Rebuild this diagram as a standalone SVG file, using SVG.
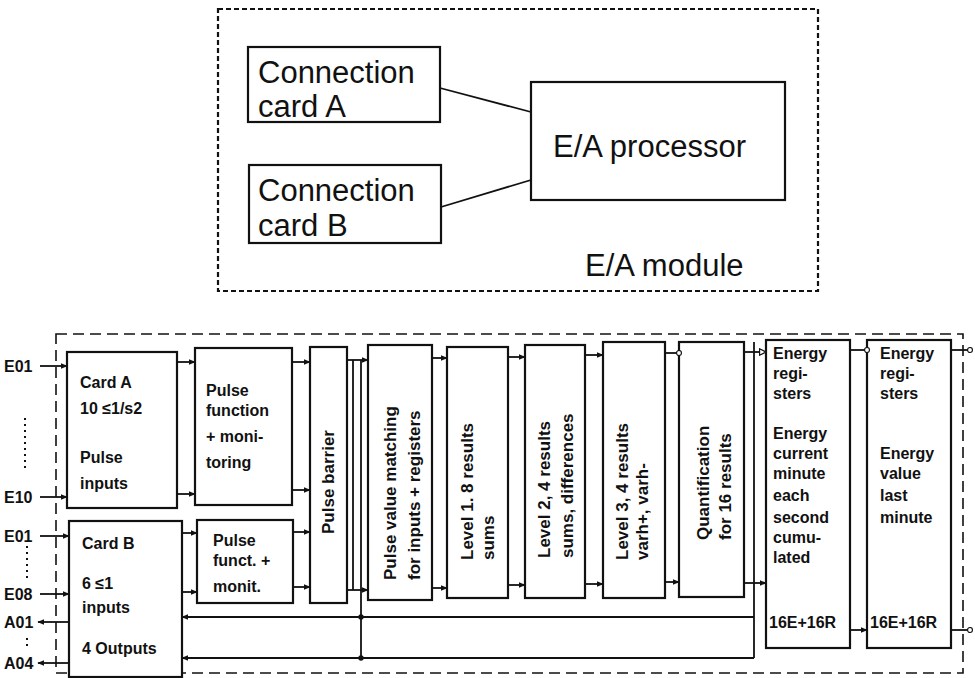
<svg xmlns="http://www.w3.org/2000/svg" width="975" height="678" viewBox="0 0 975 678">
<defs>
<style>
.bg{fill:#fff}
.box{fill:#fff;stroke:#111;stroke-width:2.2}
.dash1{fill:none;stroke:#111;stroke-width:2.2;stroke-dasharray:5 3}
.dash2{fill:none;stroke:#111;stroke-width:1.6;stroke-dasharray:11 6}
.big{font-family:"Liberation Sans",Arial,sans-serif;font-size:31px;fill:#111}
.sm{font-family:"Liberation Sans",Arial,sans-serif;font-size:16px;font-weight:bold;fill:#111}
.vt{font-family:"Liberation Sans",Arial,sans-serif;font-size:17px;font-weight:bold;fill:#111}
.lbl{font-family:"Liberation Sans",Arial,sans-serif;font-size:16px;font-weight:bold;fill:#111}
.ln{fill:none;stroke:#111;stroke-width:1.8}
.dot{fill:none;stroke:#111;stroke-width:2;stroke-dasharray:2 4}
</style>
<marker id="arr" viewBox="0 0 10 10" refX="9" refY="5" markerWidth="7" markerHeight="7" orient="auto" markerUnits="userSpaceOnUse">
<path d="M0,1 L10,5 L0,9 z" fill="#111"/>
</marker>
<marker id="oarr" viewBox="0 0 10 10" refX="9" refY="5" markerWidth="8" markerHeight="8" orient="auto" markerUnits="userSpaceOnUse">
<path d="M1,1 L9,5 L1,9 z" fill="#fff" stroke="#111" stroke-width="1.5"/>
</marker>
<marker id="circ" viewBox="0 0 10 10" refX="5" refY="5" markerWidth="7" markerHeight="7" markerUnits="userSpaceOnUse">
<circle cx="5" cy="5" r="3.5" fill="#fff" stroke="#111" stroke-width="1.6"/>
</marker>
<marker id="jd" viewBox="0 0 10 10" refX="5" refY="5" markerWidth="6" markerHeight="6" markerUnits="userSpaceOnUse">
<circle cx="5" cy="5" r="4.5" fill="#111"/>
</marker>
</defs>
<rect class="bg" x="0" y="0" width="975" height="678"/>

<!-- Top: E/A module -->
<g id="ea-module">
<rect class="dash1" x="218" y="9" width="600" height="282"/>
<text class="big" x="585" y="276" font-size="37">E/A module</text>
</g>
<g id="conn-card-a">
<rect class="box" x="248" y="47" width="192" height="75"/>
<text class="big" x="258" y="83">Connection</text>
<text class="big" x="258" y="117">card  A</text>
</g>
<g id="conn-card-b">
<rect class="box" x="249" y="165" width="192" height="78"/>
<text class="big" x="258" y="201">Connection</text>
<text class="big" x="258" y="236">card  B</text>
</g>
<g id="ea-processor">
<rect class="box" x="531" y="82" width="254" height="118"/>
<text class="big" x="553" y="157">E/A processor</text>
</g>
<g id="top-connectors">
<line class="ln" x1="440" y1="88" x2="531" y2="112"/>
<line class="ln" x1="441" y1="207" x2="531" y2="180"/>
</g>

<!-- Bottom: block diagram -->
<g id="frame">
<rect class="dash2" x="56" y="334" width="907" height="339"/>
</g>

<g id="labels">
<text class="lbl" x="4" y="372">E01</text>
<text class="lbl" x="4" y="503">E10</text>
<text class="lbl" x="4" y="542">E01</text>
<text class="lbl" x="4" y="600">E08</text>
<text class="lbl" x="4" y="628">A01</text>
<text class="lbl" x="4" y="669">A04</text>
</g>

<g id="card-a">
<rect class="box" x="67" y="352" width="110" height="156"/>
<text class="sm" x="80" y="388">Card A</text>
<text class="sm" x="80" y="414">10 ≤1/s2</text>
<text class="sm" x="80" y="463">Pulse</text>
<text class="sm" x="80" y="489">inputs</text>
</g>
<g id="card-b">
<rect class="box" x="69" y="521" width="113" height="156"/>
<text class="sm" x="82" y="549">Card B</text>
<text class="sm" x="82" y="589">6 ≤1</text>
<text class="sm" x="82" y="613">inputs</text>
<text class="sm" x="82" y="654">4 Outputs</text>
</g>
<g id="pulse-function">
<rect class="box" x="195" y="348" width="97" height="157"/>
<text class="sm" x="206" y="396">Pulse</text>
<text class="sm" x="206" y="416">function</text>
<text class="sm" x="206" y="442">+ moni-</text>
<text class="sm" x="206" y="468">toring</text>
</g>
<g id="pulse-funct">
<rect class="box" x="197" y="520" width="96" height="83"/>
<text class="sm" x="213" y="546">Pulse</text>
<text class="sm" x="213" y="566">funct. +</text>
<text class="sm" x="213" y="592">monit.</text>
</g>
<g id="pulse-barrier">
<rect class="box" x="310" y="347" width="37" height="256"/>
<text class="vt" transform="translate(334,482) rotate(-90)" text-anchor="middle">Pulse barrier</text>
</g>
<g id="pulse-value-matching">
<rect class="box" x="368" y="345" width="64" height="255"/>
<text class="vt" transform="translate(396,580) rotate(-90)">Pulse value matching<tspan x="0" dy="24">for inputs + registers</tspan></text>
</g>
<g id="level-1">
<rect class="box" x="447" y="347" width="61" height="251"/>
<text class="vt" transform="translate(473,560) rotate(-90)">Level 1. 8 results<tspan x="0" dy="21">sums</tspan></text>
</g>
<g id="level-2">
<rect class="box" x="525" y="345" width="60" height="253"/>
<text class="vt" transform="translate(550,558) rotate(-90)">Level 2, 4 results<tspan x="0" dy="23">sums, differences</tspan></text>
</g>
<g id="level-3">
<rect class="box" x="603" y="342" width="62" height="256"/>
<text class="vt" transform="translate(628,560) rotate(-90)">Level 3, 4 results<tspan x="0" dy="20">varh+, varh-</tspan></text>
</g>
<g id="quantification">
<rect class="box" x="679" y="342" width="65" height="255"/>
<text class="vt" transform="translate(709,540) rotate(-90)">Quantification<tspan x="0" dy="22">for 16 results</tspan></text>
</g>
<g id="energy-1">
<rect class="box" x="766" y="340" width="84" height="308"/>
<text class="sm" x="773" y="359">Energy</text>
<text class="sm" x="773" y="379">regi-</text>
<text class="sm" x="773" y="399">sters</text>
<text class="sm" x="773" y="439">Energy</text>
<text class="sm" x="773" y="459">current</text>
<text class="sm" x="773" y="479">minute</text>
<text class="sm" x="773" y="501">each</text>
<text class="sm" x="773" y="523">second</text>
<text class="sm" x="773" y="543">cumu-</text>
<text class="sm" x="773" y="563">lated</text>
<text class="sm" x="769" y="628">16E+16R</text>
</g>
<g id="energy-2">
<rect class="box" x="867" y="340" width="84" height="308"/>
<text class="sm" x="880" y="359">Energy</text>
<text class="sm" x="880" y="379">regi-</text>
<text class="sm" x="880" y="399">sters</text>
<text class="sm" x="880" y="459">Energy</text>
<text class="sm" x="880" y="479">value</text>
<text class="sm" x="880" y="501">last</text>
<text class="sm" x="880" y="523">minute</text>
<text class="sm" x="870" y="628">16E+16R</text>
</g>

<g id="connectors">
<!-- inputs / outputs -->
<line class="ln" x1="40" y1="366" x2="67" y2="366" marker-end="url(#arr)"/>
<line class="ln" x1="40" y1="497" x2="67" y2="497" marker-end="url(#arr)"/>
<line class="ln" x1="40" y1="536" x2="69" y2="536" marker-end="url(#arr)"/>
<line class="ln" x1="40" y1="594" x2="69" y2="594" marker-end="url(#arr)"/>
<line class="ln" x1="69" y1="622" x2="38" y2="622" marker-end="url(#arr)"/>
<line class="ln" x1="69" y1="663" x2="38" y2="663" marker-end="url(#arr)"/>
<line class="dot" x1="25" y1="418" x2="25" y2="472"/>
<line class="dot" x1="27" y1="546" x2="27" y2="578"/>
<line class="dot" x1="27" y1="638" x2="27" y2="650"/>
<!-- card -> pulse function -->
<line class="ln" x1="177" y1="362" x2="195" y2="362" marker-end="url(#arr)"/>
<line class="ln" x1="177" y1="494" x2="195" y2="494" marker-end="url(#arr)"/>
<line class="ln" x1="182" y1="533" x2="197" y2="533" marker-end="url(#arr)"/>
<line class="ln" x1="182" y1="592" x2="197" y2="592" marker-end="url(#arr)"/>
<!-- pulse function -> barrier -->
<line class="ln" x1="292" y1="362" x2="310" y2="362" marker-end="url(#arr)"/>
<line class="ln" x1="292" y1="490" x2="310" y2="490" marker-end="url(#arr)"/>
<line class="ln" x1="293" y1="532" x2="310" y2="532" marker-end="url(#arr)"/>
<line class="ln" x1="293" y1="587" x2="310" y2="587" marker-end="url(#arr)"/>
<!-- barrier -> PVM -->
<line class="ln" x1="347" y1="360" x2="368" y2="360" marker-end="url(#arr)"/>
<line class="ln" x1="347" y1="590" x2="368" y2="590" marker-end="url(#arr)"/>
<line class="ln" x1="353" y1="360" x2="353" y2="590"/>
<line class="ln" x1="361" y1="360" x2="361" y2="658"/>
<!-- chain -->
<line class="ln" x1="432" y1="358" x2="447" y2="358" marker-end="url(#arr)"/>
<line class="ln" x1="432" y1="588" x2="447" y2="588" marker-end="url(#arr)"/>
<line class="ln" x1="508" y1="357" x2="525" y2="357" marker-end="url(#arr)"/>
<line class="ln" x1="508" y1="585" x2="525" y2="585" marker-end="url(#arr)"/>
<line class="ln" x1="585" y1="355" x2="603" y2="355" marker-end="url(#arr)"/>
<line class="ln" x1="585" y1="584" x2="603" y2="584" marker-end="url(#arr)"/>
<line class="ln" x1="665" y1="353" x2="679" y2="353" marker-end="url(#circ)"/>
<line class="ln" x1="665" y1="582" x2="679" y2="582" marker-end="url(#arr)"/>
<line class="ln" x1="744" y1="352" x2="766" y2="352" marker-end="url(#oarr)"/>
<line class="ln" x1="744" y1="583" x2="766" y2="583" marker-end="url(#arr)"/>
<line class="ln" x1="754" y1="342" x2="754" y2="658"/>
<!-- feedback to card B -->
<line class="ln" x1="754" y1="617" x2="182" y2="617" marker-end="url(#arr)"/>
<line class="ln" x1="754" y1="658" x2="182" y2="658" marker-end="url(#arr)"/>
<line class="ln" x1="361" y1="617" x2="361" y2="617" marker-end="url(#jd)"/>
<line class="ln" x1="361" y1="658" x2="361" y2="658" marker-end="url(#jd)"/>
<!-- energy registers -->
<line class="ln" x1="850" y1="350" x2="867" y2="350" marker-end="url(#circ)"/>
<line class="ln" x1="850" y1="630" x2="867" y2="630" marker-end="url(#arr)"/>
<line class="ln" x1="951" y1="350" x2="970" y2="350" marker-end="url(#circ)"/>
<line class="ln" x1="951" y1="630" x2="970" y2="630" marker-end="url(#circ)"/>
</g>
</svg>
